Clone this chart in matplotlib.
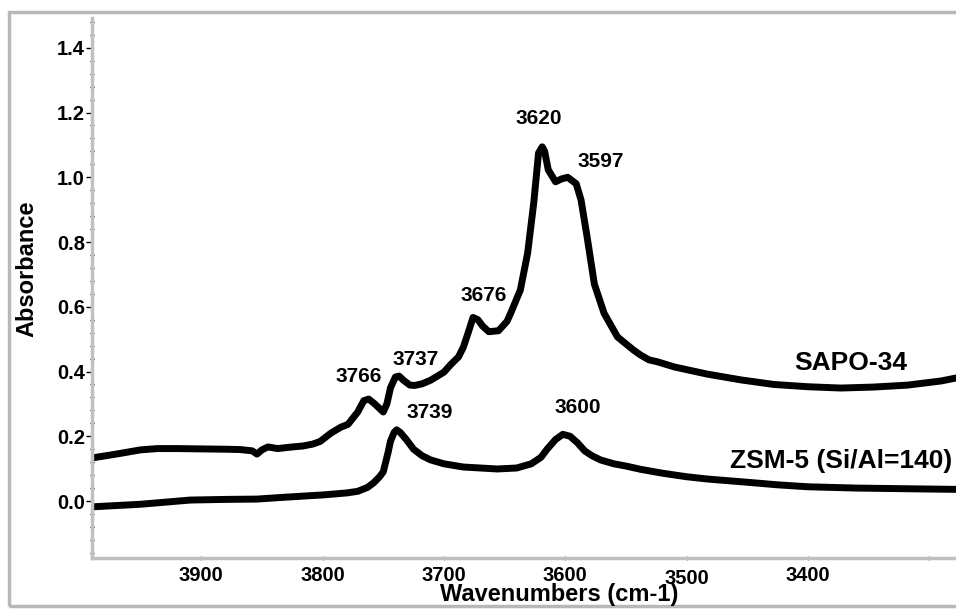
import matplotlib
matplotlib.use('Agg')
import matplotlib.pyplot as plt
from matplotlib.patches import Rectangle
from matplotlib.transforms import ScaledTranslation
from matplotlib.ticker import MultipleLocator

# SAPO-34 spectrum (wavenumber cm-1, absorbance)
sapo_wn = [3990, 3970, 3950, 3936, 3920, 3900, 3880, 3868, 3858, 3854, 3850, 3845,
           3837, 3825, 3816, 3808, 3802, 3793, 3785, 3779, 3771, 3766, 3762, 3757,
           3750, 3747, 3744, 3740, 3737, 3733, 3728, 3724, 3718, 3711, 3700, 3694,
           3688, 3684, 3680, 3676, 3672, 3668, 3663, 3655, 3648, 3645, 3637, 3631,
           3626, 3622, 3619, 3617, 3614, 3608, 3603, 3598, 3591, 3587, 3582, 3576,
           3568, 3557, 3544, 3538, 3531, 3524, 3510, 3483, 3455, 3428, 3400, 3373,
           3346, 3318, 3290, 3278]
sapo_abs = [0.133, 0.145, 0.158, 0.162, 0.162, 0.161, 0.160, 0.159, 0.155, 0.145, 0.158, 0.167,
            0.162, 0.167, 0.170, 0.176, 0.184, 0.210, 0.228, 0.237, 0.275, 0.310, 0.315, 0.300,
            0.275, 0.300, 0.350, 0.383, 0.386, 0.372, 0.358, 0.357, 0.362, 0.373, 0.398, 0.423,
            0.445, 0.475, 0.520, 0.567, 0.560, 0.540, 0.523, 0.526, 0.555, 0.580, 0.652, 0.766,
            0.920, 1.075, 1.094, 1.080, 1.023, 0.986, 0.995, 1.000, 0.980, 0.930, 0.816, 0.670,
            0.580, 0.507, 0.467, 0.451, 0.436, 0.430, 0.414, 0.392, 0.374, 0.360, 0.353, 0.349,
            0.352, 0.358, 0.371, 0.380]

# ZSM-5 (Si/Al=140) spectrum
zsm_wn = [3990, 3950, 3909, 3880, 3854, 3830, 3799, 3780, 3771, 3763, 3758, 3753,
          3750, 3746, 3744, 3741, 3739, 3736, 3731, 3725, 3718, 3711, 3700, 3684,
          3670, 3656, 3640, 3628, 3620, 3615, 3608, 3602, 3596, 3590, 3584, 3578,
          3571, 3560, 3550, 3538, 3520, 3500, 3483, 3450, 3425, 3400, 3360, 3320, 3278]
zsm_abs = [-0.018, -0.010, 0.003, 0.005, 0.006, 0.012, 0.019, 0.025, 0.030, 0.042, 0.056, 0.075,
           0.090, 0.150, 0.185, 0.212, 0.220, 0.212, 0.190, 0.160, 0.140, 0.127, 0.115, 0.105,
           0.102, 0.099, 0.102, 0.115, 0.135, 0.160, 0.190, 0.206, 0.200, 0.180, 0.155, 0.140,
           0.127, 0.115, 0.108, 0.098, 0.086, 0.075, 0.068, 0.058, 0.050, 0.044, 0.040, 0.038, 0.036]

# peak labels: text, x, y
peak_text = ['3766', '3737', '3739', '3676', '3620', '3597', '3600']
peak_x = [3770, 3723, 3712, 3667, 3622, 3571, 3590]
peak_y = [0.386, 0.437, 0.273, 0.635, 1.183, 1.049, 0.289]

series_text = ['SAPO-34', 'ZSM-5 (Si/Al=140)']
series_x = [3365, 3373]
series_y = [0.426, 0.124]

xticks = [3900, 3800, 3700, 3600, 3500, 3400, 3300]
xtick_labels = ['3900', '3800', '3700', '3600', '3500', '3400', '']
yticks = [0.0, 0.2, 0.4, 0.6, 0.8, 1.0, 1.2, 1.4]


def main():
    plt.rcParams['font.family'] = ['Liberation Sans', 'DejaVu Sans']
    plt.rcParams['font.weight'] = 'bold'

    fig = plt.figure(figsize=(9.56, 6.12), dpi=100)
    ax = fig.add_axes([92 / 956, 1 - 558 / 612, 1 - 92 / 956, (558 - 18) / 612])

    # outer frame
    fig.patches.append(Rectangle((0.0095, 0.009), 1.05, 0.971, transform=fig.transFigure,
                                 fill=False, edgecolor='#b8b8b8', linewidth=2.5))

    kw = dict(color='black', linewidth=5, solid_capstyle='round', solid_joinstyle='round')
    ax.plot(sapo_wn, sapo_abs, **kw)
    ax.plot(zsm_wn, zsm_abs, **kw)

    for t, x, y in zip(peak_text, peak_x, peak_y):
        ax.text(x, y, t, ha='center', va='center', fontsize=15, fontweight='bold')
    for t, x, y in zip(series_text, series_x, series_y):
        ax.text(x, y, t, ha='center', va='center', fontsize=19, fontweight='bold')

    ax.set_xlim(3990, 3278)
    ax.set_ylim(-0.176, 1.492)
    ax.set_xticks(xticks)
    ax.set_xticklabels(xtick_labels)
    ax.set_yticks(yticks)
    ax.set_yticklabels(['%.1f' % v for v in yticks])
    ax.yaxis.set_minor_locator(MultipleLocator(0.04))

    for s in ['top', 'right']:
        ax.spines[s].set_visible(False)
    for s in ['left', 'bottom']:
        ax.spines[s].set_color('#c0c0c0')
        ax.spines[s].set_linewidth(2.5)

    ax.tick_params(axis='y', which='major', direction='out', length=4, width=1,
                   color='black', labelsize=14.5, pad=1)
    ax.tick_params(axis='y', which='minor', direction='inout', length=3, width=1, color='black')
    ax.tick_params(axis='x', which='major', direction='inout', length=3, width=1,
                   color='#666666', labelsize=14.5, pad=4)

    # the 3500 label sits a little lower in the original
    lbl = ax.get_xticklabels()[4]
    lbl.set_transform(lbl.get_transform() + ScaledTranslation(0, -3 / 100, fig.dpi_scale_trans))

    fig.text(559 / 956, 1 - 595 / 612, 'Wavenumbers (cm-1)', ha='center', va='center',
             fontsize=17, fontweight='bold')
    fig.text(26.5 / 956, 1 - 268.5 / 612, 'Absorbance', ha='center', va='center',
             rotation=90, fontsize=17, fontweight='bold')

    fig.savefig('out.png', dpi=100)


if __name__ == "__main__":
    main()
